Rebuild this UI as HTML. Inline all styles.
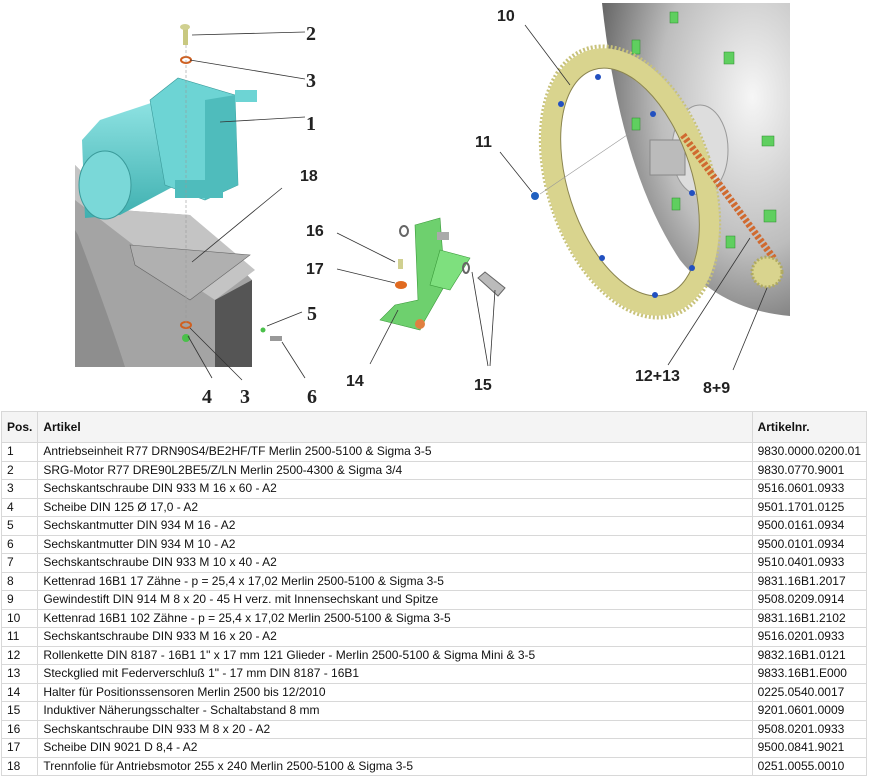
<!DOCTYPE html>
<html><head><meta charset="utf-8"><style>
body{margin:0;width:869px;height:778px;background:#fff;overflow:hidden;font-family:"Liberation Sans",Arial,sans-serif;position:relative}
svg{position:absolute;left:0;top:0}
table{position:absolute;left:1px;top:411px;width:866px;border-collapse:collapse;font-size:12px;color:#111}
td{border:1px solid #d8d8d8;padding:0 5px;height:17.5px;line-height:17px;white-space:nowrap}
tr.h td{font-weight:bold;background:#f4f4f4;height:30px}
td.a{width:24px}td.c{width:101px}
</style></head><body>
<svg width="869" height="410" viewBox="0 0 869 410">
<defs>
<radialGradient id="dg" cx="0.8" cy="0.3" r="0.9"><stop offset="0" stop-color="#f6f6f6"/><stop offset="0.55" stop-color="#bdbdbd"/><stop offset="1" stop-color="#5a5a5a"/></radialGradient>
<linearGradient id="mg" x1="0" y1="0" x2="0" y2="1"><stop offset="0" stop-color="#8fe3e3"/><stop offset="1" stop-color="#3fb0b0"/></linearGradient>
</defs>
<!-- disc -->
<path d="M602,3 L790,3 L790,316 Q720,310 680,260 Q620,170 602,3Z" fill="url(#dg)"/>
<ellipse cx="700" cy="150" rx="28" ry="45" fill="#ddd" stroke="#999"/>
<rect x="650" y="140" width="35" height="35" fill="#bbb" stroke="#888"/>
<g fill="#5fcf5f" stroke="#2a8a2a" stroke-width="0.5">
<rect x="670" y="12" width="8" height="11"/><rect x="632" y="40" width="8" height="14"/><rect x="724" y="52" width="10" height="12"/><rect x="632" y="118" width="8" height="12"/><rect x="762" y="136" width="12" height="10"/><rect x="672" y="198" width="8" height="12"/><rect x="764" y="210" width="12" height="12"/><rect x="726" y="236" width="9" height="12"/>
</g>
<!-- gear ring -->
<g transform="rotate(-18 630 182)">
<ellipse cx="630" cy="182" rx="82" ry="140" fill="none" stroke="#c8c27a" stroke-width="4" stroke-dasharray="2 2"/>
<ellipse cx="630" cy="182" rx="72" ry="128" fill="none" stroke="#d9d48e" stroke-width="20"/>
<ellipse cx="630" cy="182" rx="62" ry="118" fill="none" stroke="#8a8450" stroke-width="1"/>
</g>
<g fill="#2250c0"><circle cx="598" cy="77" r="3"/><circle cx="561" cy="104" r="3"/><circle cx="653" cy="114" r="3"/><circle cx="692" cy="193" r="3"/><circle cx="602" cy="258" r="3"/><circle cx="692" cy="268" r="3"/><circle cx="655" cy="295" r="3"/></g>
<line x1="683" y1="135" x2="775" y2="260" stroke="#d06a30" stroke-width="7" stroke-dasharray="3 2"/>
<circle cx="767" cy="272" r="15" fill="#d9d48e" stroke="#b0aa60" stroke-width="3" stroke-dasharray="2 2"/>
<circle cx="535" cy="196" r="4" fill="#2060c0"/>
<line x1="540" y1="194" x2="630" y2="133" stroke="#999" stroke-width="0.6"/>
<!-- gray box -->
<polygon points="75,165 75,367 252,367 252,280 190,215 120,210" fill="#a4a4a4"/>
<polygon points="75,165 120,210 190,215 255,270 215,300 140,250 75,200" fill="#c4c4c4"/>
<polygon points="215,300 252,280 252,367 215,367" fill="#555"/>
<polygon points="130,245 250,255 190,300 135,265" fill="#b0b0b0" stroke="#666" stroke-width="0.6"/>
<path d="M78,235 Q110,320 125,367 L75,367 L75,230Z" fill="#8e8e8e"/>
<!-- motor -->
<polygon points="82,140 100,120 160,100 195,175 120,215 85,218" fill="url(#mg)"/>
<ellipse cx="105" cy="185" rx="26" ry="34" fill="#7ad8d8" stroke="#3a9a9a"/>
<polygon points="150,100 178,78 235,95 238,185 205,200 165,185" fill="#6dd4d4" stroke="#3a9a9a" stroke-width="0.6"/>
<polygon points="205,100 235,95 238,185 205,200" fill="#4fbcbc"/>
<rect x="175" y="180" width="48" height="18" fill="#4fbcbc"/>
<rect x="235" y="90" width="22" height="12" fill="#6dd4d4"/>
<rect x="183" y="27" width="5" height="18" fill="#c8c880"/><ellipse cx="185" cy="27" rx="5" ry="3" fill="#d0d090"/>
<ellipse cx="186" cy="60" rx="5" ry="3" fill="none" stroke="#d06020" stroke-width="2"/>
<ellipse cx="186" cy="325" rx="5" ry="3" fill="none" stroke="#d06020" stroke-width="2"/>
<circle cx="186" cy="338" r="4" fill="#4ac04a"/><circle cx="263" cy="330" r="2.5" fill="#4ac04a"/>
<rect x="270" y="336" width="12" height="5" fill="#999"/>
<line x1="186" y1="45" x2="186" y2="330" stroke="#999" stroke-width="0.6" stroke-dasharray="3 2"/>
<!-- bracket -->
<polygon points="415,225 440,218 445,285 425,320 420,330 380,320 395,305 418,300" fill="#6ed06e" stroke="#3a9a3a" stroke-width="0.6"/>
<polygon points="440,250 470,258 450,290 430,285" fill="#7ee07e" stroke="#3a9a3a" stroke-width="0.6"/>
<rect x="437" y="232" width="12" height="8" fill="#aaa"/>
<ellipse cx="404" cy="231" rx="4" ry="5" fill="none" stroke="#666" stroke-width="2"/>
<ellipse cx="466" cy="268" rx="3" ry="5" fill="none" stroke="#666" stroke-width="2"/>
<polygon points="478,278 485,272 505,288 498,296" fill="#bbb" stroke="#666"/>
<circle cx="420" cy="324" r="5" fill="#e08040"/>
<rect x="398" y="259" width="5" height="10" fill="#d0d090"/>
<ellipse cx="401" cy="285" rx="6" ry="4" fill="#e06a20"/>
<!-- leaders -->
<g stroke="#333" stroke-width="0.8" fill="none">
<line x1="192" y1="35" x2="305" y2="32"/><line x1="190" y1="60" x2="305" y2="79"/><line x1="220" y1="122" x2="305" y2="117"/>
<line x1="282" y1="188" x2="192" y2="262"/><line x1="267" y1="326" x2="302" y2="312"/><line x1="282" y1="342" x2="305" y2="378"/>
<line x1="188" y1="336" x2="212" y2="378"/><line x1="190" y1="328" x2="242" y2="380"/>
<line x1="337" y1="233" x2="395" y2="262"/><line x1="337" y1="269" x2="395" y2="283"/><line x1="398" y1="310" x2="370" y2="364"/>
<line x1="472" y1="272" x2="488" y2="366"/><line x1="495" y1="290" x2="490" y2="366"/>
<line x1="525" y1="25" x2="570" y2="85"/><line x1="500" y1="152" x2="532" y2="192"/>
<line x1="750" y1="238" x2="668" y2="365"/><line x1="767" y1="288" x2="733" y2="370"/>
</g>
<g font-family="Liberation Serif,serif" font-weight="bold" font-size="20" fill="#222">
<text x="306" y="40">2</text><text x="306" y="87">3</text><text x="306" y="130">1</text><text x="307" y="320">5</text><text x="202" y="403">4</text><text x="240" y="403">3</text><text x="307" y="403">6</text>
</g>
<g font-family="Liberation Sans,sans-serif" font-weight="bold" font-size="16" fill="#222">
<text x="300" y="181">18</text><text x="306" y="236">16</text><text x="306" y="274">17</text><text x="346" y="386">14</text><text x="474" y="390">15</text><text x="497" y="21">10</text><text x="475" y="147">11</text><text x="635" y="381">12+13</text><text x="703" y="393">8+9</text>
</g>
</svg>
<table>
<tr class="h"><td class="a">Pos.</td><td>Artikel</td><td class="c">Artikelnr.</td></tr>
<tr><td>1</td><td>Antriebseinheit R77 DRN90S4/BE2HF/TF Merlin 2500-5100 &amp; Sigma 3-5</td><td>9830.0000.0200.01</td></tr>
<tr><td>2</td><td>SRG-Motor R77 DRE90L2BE5/Z/LN Merlin 2500-4300 &amp; Sigma 3/4</td><td>9830.0770.9001</td></tr>
<tr><td>3</td><td>Sechskantschraube DIN 933 M 16 x 60 - A2</td><td>9516.0601.0933</td></tr>
<tr><td>4</td><td>Scheibe DIN 125 Ø 17,0 - A2</td><td>9501.1701.0125</td></tr>
<tr><td>5</td><td>Sechskantmutter DIN 934 M 16 - A2</td><td>9500.0161.0934</td></tr>
<tr><td>6</td><td>Sechskantmutter DIN 934 M 10 - A2</td><td>9500.0101.0934</td></tr>
<tr><td>7</td><td>Sechskantschraube DIN 933 M 10 x 40 - A2</td><td>9510.0401.0933</td></tr>
<tr><td>8</td><td>Kettenrad 16B1 17 Zähne - p = 25,4 x 17,02 Merlin 2500-5100 &amp; Sigma 3-5</td><td>9831.16B1.2017</td></tr>
<tr><td>9</td><td>Gewindestift DIN 914 M 8 x 20 - 45 H verz. mit Innensechskant und Spitze</td><td>9508.0209.0914</td></tr>
<tr><td>10</td><td>Kettenrad 16B1 102 Zähne - p = 25,4 x 17,02 Merlin 2500-5100 &amp; Sigma 3-5</td><td>9831.16B1.2102</td></tr>
<tr><td>11</td><td>Sechskantschraube DIN 933 M 16 x 20 - A2</td><td>9516.0201.0933</td></tr>
<tr><td>12</td><td>Rollenkette DIN 8187 - 16B1 1" x 17 mm 121 Glieder - Merlin 2500-5100 &amp; Sigma Mini &amp; 3-5</td><td>9832.16B1.0121</td></tr>
<tr><td>13</td><td>Steckglied mit Federverschluß 1" - 17 mm DIN 8187 - 16B1</td><td>9833.16B1.E000</td></tr>
<tr><td>14</td><td>Halter für Positionssensoren Merlin 2500 bis 12/2010</td><td>0225.0540.0017</td></tr>
<tr><td>15</td><td>Induktiver Näherungsschalter - Schaltabstand 8 mm</td><td>9201.0601.0009</td></tr>
<tr><td>16</td><td>Sechskantschraube DIN 933 M 8 x 20 - A2</td><td>9508.0201.0933</td></tr>
<tr><td>17</td><td>Scheibe DIN 9021 D 8,4 - A2</td><td>9500.0841.9021</td></tr>
<tr><td>18</td><td>Trennfolie für Antriebsmotor 255 x 240 Merlin 2500-5100 &amp; Sigma 3-5</td><td>0251.0055.0010</td></tr>
</table>
</body></html>
